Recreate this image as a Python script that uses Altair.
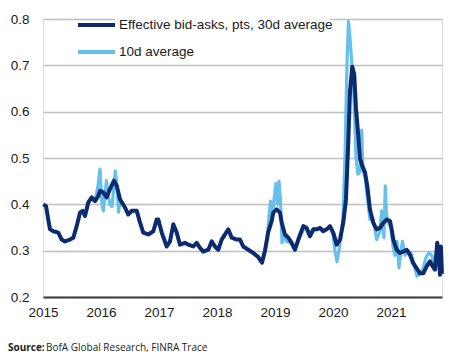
import altair as alt
import pandas as pd

# 30d average (dark) : decimal year, value
dark_year = [2015.005, 2015.052, 2015.091, 2015.121, 2015.178, 2015.264, 2015.322, 2015.379, 2015.466, 2015.522,
             2015.581, 2015.638, 2015.684, 2015.724, 2015.781, 2015.840, 2015.897, 2015.953, 2015.983, 2016.040,
             2016.098, 2016.155, 2016.224, 2016.271, 2016.328, 2016.414, 2016.471, 2016.529, 2016.616, 2016.672,
             2016.729, 2016.816, 2016.902, 2016.960, 2016.988, 2017.047, 2017.133, 2017.190, 2017.247, 2017.305,
             2017.362, 2017.448, 2017.505, 2017.591, 2017.650, 2017.707, 2017.764, 2017.850, 2017.909, 2017.966,
             2018.022, 2018.081, 2018.138, 2018.195, 2018.253, 2018.340, 2018.397, 2018.453, 2018.540, 2018.626,
             2018.712, 2018.776, 2018.828, 2018.884, 2018.943, 2018.971, 2019.029, 2019.086, 2019.116, 2019.172,
             2019.229, 2019.288, 2019.345, 2019.402, 2019.488, 2019.547, 2019.603, 2019.660, 2019.719, 2019.776,
             2019.833, 2019.891, 2019.948, 2020.005, 2020.064, 2020.121, 2020.178, 2020.224, 2020.264, 2020.293,
             2020.333, 2020.367, 2020.397, 2020.436, 2020.466, 2020.505, 2020.552, 2020.591, 2020.638, 2020.695,
             2020.753, 2020.810, 2020.867, 2020.926, 2020.983, 2021.012, 2021.040, 2021.098, 2021.155, 2021.212,
             2021.271, 2021.328, 2021.384, 2021.443, 2021.500, 2021.557, 2021.616, 2021.672, 2021.719, 2021.759,
             2021.798, 2021.822, 2021.845, 2021.862, 2021.879]
dark_val = [0.400, 0.396, 0.367, 0.346, 0.342, 0.339, 0.324, 0.320, 0.324, 0.328,
            0.353, 0.382, 0.386, 0.375, 0.404, 0.415, 0.407, 0.418, 0.429, 0.426,
            0.415, 0.433, 0.451, 0.440, 0.411, 0.393, 0.378, 0.386, 0.386, 0.361,
            0.339, 0.335, 0.342, 0.367, 0.367, 0.339, 0.309, 0.320, 0.357, 0.339,
            0.313, 0.317, 0.313, 0.309, 0.317, 0.306, 0.298, 0.302, 0.320, 0.309,
            0.302, 0.324, 0.335, 0.346, 0.328, 0.324, 0.324, 0.309, 0.302, 0.295,
            0.286, 0.274, 0.300, 0.340, 0.364, 0.382, 0.389, 0.382, 0.361, 0.335,
            0.328, 0.317, 0.302, 0.324, 0.353, 0.349, 0.331, 0.346, 0.346, 0.349,
            0.342, 0.346, 0.353, 0.339, 0.313, 0.324, 0.361, 0.410, 0.534, 0.643,
            0.697, 0.680, 0.607, 0.549, 0.498, 0.483, 0.469, 0.440, 0.389, 0.360,
            0.346, 0.349, 0.360, 0.367, 0.364, 0.346, 0.324, 0.302, 0.295, 0.298,
            0.302, 0.291, 0.273, 0.262, 0.251, 0.251, 0.266, 0.277, 0.266, 0.259,
            0.317, 0.295, 0.248, 0.309, 0.250]

# 10d average (light), visible segments
light_seg = [1] * 16 + [2] * 70
light_year = [2015.897, 2015.948, 2015.983, 2016.017, 2016.040, 2016.069, 2016.095, 2016.121, 2016.155, 2016.190,
              2016.216, 2016.247, 2016.276, 2016.302, 2016.328, 2016.345,
              2018.776, 2018.845, 2018.888, 2018.922, 2018.957, 2018.983, 2019.017, 2019.043, 2019.069, 2019.095,
              2019.121, 2019.155, 2019.190, 2019.259, 2019.345, 2019.431, 2019.517, 2019.603, 2019.690, 2019.776,
              2019.862, 2019.948, 2020.000, 2020.034, 2020.069, 2020.103, 2020.138, 2020.172, 2020.207, 2020.241,
              2020.267, 2020.293, 2020.328, 2020.362, 2020.397, 2020.431, 2020.466, 2020.495, 2020.517, 2020.552,
              2020.586, 2020.638, 2020.690, 2020.753, 2020.810, 2020.840, 2020.862, 2020.879, 2020.902, 2020.922,
              2020.948, 2021.000, 2021.034, 2021.069, 2021.103, 2021.138, 2021.172, 2021.198, 2021.241, 2021.293,
              2021.345, 2021.397, 2021.448, 2021.500, 2021.552, 2021.603, 2021.655, 2021.707, 2021.741, 2021.776,
              2021.810, 2021.845, 2021.879]
light_val = [0.407, 0.440, 0.476, 0.400, 0.386, 0.420, 0.451, 0.420, 0.400, 0.395,
             0.430, 0.472, 0.440, 0.383, 0.405, 0.410,
             0.274, 0.310, 0.360, 0.407, 0.370, 0.410, 0.445, 0.400, 0.450, 0.410,
             0.317, 0.340, 0.320, 0.318, 0.303, 0.330, 0.352, 0.332, 0.346, 0.349,
             0.344, 0.352, 0.335, 0.300, 0.276, 0.300, 0.330, 0.370, 0.500, 0.700,
             0.795, 0.760, 0.700, 0.630, 0.500, 0.465, 0.470, 0.560, 0.476, 0.460,
             0.420, 0.367, 0.370, 0.324, 0.342, 0.386, 0.350, 0.328, 0.440, 0.380,
             0.360, 0.350, 0.310, 0.290, 0.320, 0.263, 0.300, 0.320, 0.290, 0.300,
             0.295, 0.270, 0.245, 0.250, 0.260, 0.285, 0.295, 0.290, 0.260, 0.290,
             0.270, 0.300, 0.260]

year_ticks = [2015, 2016, 2017, 2018, 2019, 2020, 2021]
y_ticks = [0.2, 0.3, 0.4, 0.5, 0.6, 0.7, 0.8]
legend_labels = ["Effective bid-asks, pts, 30d average", "10d average"]
source_parts = ["Source:", "BofA Global Research, FINRA Trace"]

DARK = "#0b2b6e"
LIGHT = "#66c1ea"
FONT = "Liberation Sans"

n = min(len(light_year), len(light_val), len(light_seg))
dark_df = pd.DataFrame({"year": dark_year, "value": dark_val})
light_df = pd.DataFrame({"year": light_year[:n], "value": light_val[:n], "seg": light_seg[:n]})

xscale = alt.Scale(domain=[2015, 2021.88], nice=False, zero=False)
yscale = alt.Scale(domain=[0.2, 0.8], nice=False, zero=False)

x_axis = alt.Axis(values=year_ticks, format="d", title=None, ticks=False, grid=False,
                  domainColor="#3a3a3a", domainWidth=2, labelPadding=8, labelFlush=False,
                  labelFont=FONT, labelFontSize=13.5, labelColor="#1a1a1a")
y_axis = alt.Axis(values=y_ticks, format=".1f", title=None, ticks=False, domain=False,
                  gridColor="#c0c0c0", gridWidth=1.5, labelPadding=14, labelFlush=False,
                  labelFont=FONT, labelFontSize=13.5, labelColor="#1a1a1a")

light = alt.Chart(light_df).mark_line(color=LIGHT, strokeWidth=3.2, strokeJoin="round").encode(
    x=alt.X("year:Q", scale=xscale, axis=x_axis),
    y=alt.Y("value:Q", scale=yscale, axis=y_axis),
    detail="seg:N",
)
dark = alt.Chart(dark_df).mark_line(color=DARK, strokeWidth=4, strokeJoin="round").encode(
    x=alt.X("year:Q", scale=xscale),
    y=alt.Y("value:Q", scale=yscale),
)

leg_df = pd.DataFrame({"label": legend_labels, "color": [DARK, LIGHT], "ypos": [6, 33]})
leg_bg = alt.Chart(pd.DataFrame({"label": legend_labels[:1]})).mark_rect(color="white").encode(
    x=alt.value(72), x2=alt.value(287), y=alt.value(-3), y2=alt.value(15)
)
leg_lines = alt.Chart(leg_df).mark_rule(strokeWidth=4).encode(
    x=alt.value(35), x2=alt.value(72), y=alt.Y("ypos:Q", scale=None),
    color=alt.Color("color:N", scale=None),
)
leg_text = alt.Chart(leg_df).mark_text(align="left", baseline="middle", font=FONT, fontSize=13.5,
                                       color="#1a1a1a").encode(
    x=alt.value(76), y=alt.Y("ypos:Q", scale=None), text="label:N"
)

src_bold = alt.Chart(pd.DataFrame({"t": source_parts[:1]})).mark_text(
    align="left", baseline="middle", font="Open Sans", fontSize=10, fontWeight="bold", color="#222222"
).encode(x=alt.value(-35), y=alt.value(329), text="t:N")
src_reg = alt.Chart(pd.DataFrame({"t": source_parts[1:]})).mark_text(
    align="left", baseline="middle", font="Open Sans", fontSize=10, color="#222222"
).encode(x=alt.value(3), y=alt.value(329), text="t:N")

chart = alt.layer(light, dark, leg_bg, leg_lines, leg_text, src_bold, src_reg).properties(
    width=399, height=278,
    autosize=alt.AutoSizeParams(type="none"),
    padding={"left": 35, "top": 11, "right": 9, "bottom": 56},
).configure_view(stroke=None).configure(background="white")

chart.save("out.html", embed_options={"renderer": "svg", "actions": False})
